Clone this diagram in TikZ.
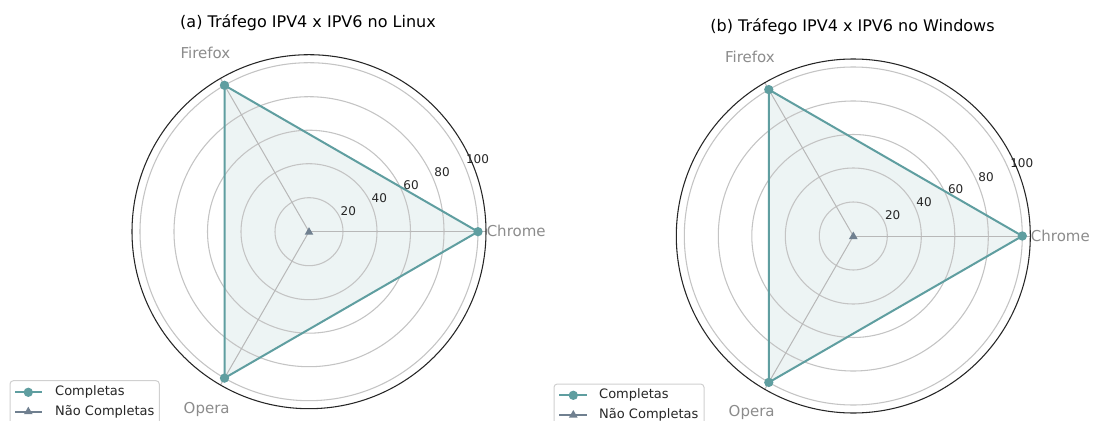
\documentclass[tikz,border=0pt]{standalone}
\usepackage{fontspec}
\setmainfont{DejaVu Sans}
\usetikzlibrary{shapes.geometric}
\definecolor{lineteal}{HTML}{5F9EA0}
\definecolor{slate}{HTML}{708090}
\definecolor{gridc}{HTML}{C4C4C4}
\definecolor{spokec}{HTML}{B8B8B8}
\definecolor{labc}{HTML}{8C8C8C}
\definecolor{tickc}{HTML}{262626}
\definecolor{legc}{HTML}{D0D0D0}
\begin{document}
\begin{tikzpicture}[x=0.75pt,y=-0.75pt,
  gridring/.style={draw=gridc, line width=0.8pt},
  spokeline/.style={draw=spokec, line width=0.75pt},
  spine/.style={draw=black!85, line width=0.8pt},
  series/.style={draw=lineteal, line width=1.5pt, line join=round},
  areafill/.style={fill=lineteal, fill opacity=0.11},
  dotmark/.style={circle, fill=lineteal, inner sep=0pt, minimum size=7pt},
  trimark/.style={regular polygon, regular polygon sides=3, fill=slate, inner sep=0pt, minimum size=7.5pt},
  titletext/.style={font=\fontsize{12}{14}\selectfont, text=black},
  axislabel/.style={font=\fontsize{11.25}{13}\selectfont, text=labc},
  ticklabel/.style={font=\fontsize{9}{11}\selectfont, text=tickc},
  legtext/.style={font=\fontsize{9.75}{12}\selectfont, text=tickc, anchor=west},
  legbox/.style={draw=legc, fill=white, line width=0.75pt, rounded corners=2.5pt}]
\clip (0,0) rectangle (1093,421);
\fill[white] (0,0) rectangle (1093,421);

% ================= Left chart =================
\coordinate (cL) at (309,231.7);
\coordinate (chL) at (478,231.7);
\coordinate (ffL) at (224.5,85.3);
\coordinate (opL) at (224.5,378.1);
\coordinate (chLo) at (486,231.7);
\coordinate (ffLo) at (220.5,78.4);
\coordinate (opLo) at (220.5,385);

\fill[areafill] (chL) -- (ffL) -- (opL) -- cycle;
\foreach \r in {34,68,101.5,135,169} \draw[gridring] (cL) circle[radius=\r];
\draw[spokeline] (cL) -- (chLo);
\draw[spokeline] (cL) -- (ffLo);
\draw[spokeline] (cL) -- (opLo);
\draw[spine] (cL) circle[radius=177];
\draw[series] (chL) -- (ffL) -- (opL) -- cycle;
\node[dotmark] (mchL) at (chL) {};
\node[dotmark] (mffL) at (ffL) {};
\node[dotmark] (mopL) at (opL) {};
\node[trimark] (ncL) at (309,232.2) {};

\node[ticklabel] (t20L) at (348.3,211) {20};
\node[ticklabel] (t40L) at (379.3,198) {40};
\node[ticklabel] (t60L) at (411,185) {60};
\node[ticklabel] (t80L) at (442,172.3) {80};
\node[ticklabel] (t100L) at (477.5,159.3) {100};

\node[axislabel, anchor=west, inner sep=0pt] (lchL) at (486.5,231.2) {Chrome};
\node[axislabel] (lffL) at (205.5,52.7) {Firefox};
\node[axislabel] (lopL) at (206.7,409) {Opera};
\node[titletext] (titL) at (308,23) {(a) Tráfego IPV4 x IPV6 no Linux};

\draw[legbox] (10,380.7) rectangle (159.3,440);
\coordinate (lg1aL) at (15,392.3);
\coordinate (lg1bL) at (41.7,392.3);
\coordinate (lg2aL) at (15,411.7);
\coordinate (lg2bL) at (41.7,411.7);
\draw[series] (lg1aL) -- (lg1bL);
\node[dotmark] (lgm1L) at (28.3,392.3) {};
\draw[draw=slate, line width=1.5pt] (lg2aL) -- (lg2bL);
\node[trimark] (lgm2L) at (28.3,411.7) {};
\node[legtext] (lgt1L) at (50.5,392.3) {Completas};
\node[legtext] (lgt2L) at (50.5,411.7) {Não Completas};

% ================= Right chart =================
\coordinate (cR) at (853.3,236);
\coordinate (chR) at (1022.3,236);
\coordinate (ffR) at (768.8,89.6);
\coordinate (opR) at (768.8,382.4);
\coordinate (chRo) at (1030.3,236);
\coordinate (ffRo) at (764.8,82.7);
\coordinate (opRo) at (764.8,389.3);

\fill[areafill] (chR) -- (ffR) -- (opR) -- cycle;
\foreach \r in {34,68,101.5,135,169} \draw[gridring] (cR) circle[radius=\r];
\draw[spokeline] (cR) -- (chRo);
\draw[spokeline] (cR) -- (ffRo);
\draw[spokeline] (cR) -- (opRo);
\draw[spine] (cR) circle[radius=177];
\draw[series] (chR) -- (ffR) -- (opR) -- cycle;
\node[dotmark] (mchR) at (chR) {};
\node[dotmark] (mffR) at (ffR) {};
\node[dotmark] (mopR) at (opR) {};
\node[trimark] (ncR) at (853.3,236.5) {};

\node[ticklabel] (t20R) at (892.7,215) {20};
\node[ticklabel] (t40R) at (924,201.7) {40};
\node[ticklabel] (t60R) at (955.7,189) {60};
\node[ticklabel] (t80R) at (986,176.7) {80};
\node[ticklabel] (t100R) at (1021.7,162.7) {100};

\node[axislabel, anchor=west, inner sep=0pt] (lchR) at (1030.7,235.5) {Chrome};
\node[axislabel] (lffR) at (750,56.7) {Firefox};
\node[axislabel] (lopR) at (751.7,412.3) {Opera};
\node[titletext] (titR) at (852.5,26.7) {(b) Tráfego IPV4 x IPV6 no Windows};

\draw[legbox] (554,384) rectangle (704,440);
\coordinate (lg1aR) at (559,395.3);
\coordinate (lg1bR) at (586.7,395.3);
\coordinate (lg2aR) at (559,415);
\coordinate (lg2bR) at (586.7,415);
\draw[series] (lg1aR) -- (lg1bR);
\node[dotmark] (lgm1R) at (573.3,395.3) {};
\draw[draw=slate, line width=1.5pt] (lg2aR) -- (lg2bR);
\node[trimark] (lgm2R) at (573.3,415) {};
\node[legtext] (lgt1R) at (594.5,395.3) {Completas};
\node[legtext] (lgt2R) at (594.5,415) {Não Completas};
\end{tikzpicture}
\end{document}
